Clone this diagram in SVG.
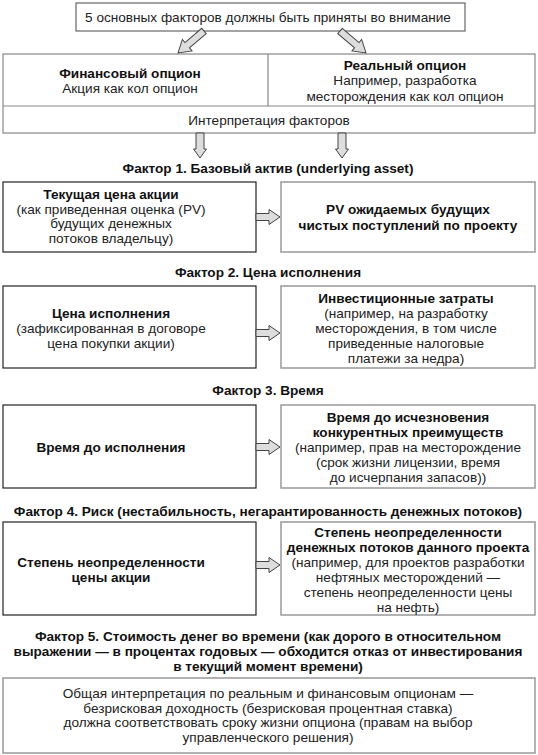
<svg xmlns="http://www.w3.org/2000/svg" width="538" height="755" viewBox="0 0 538 755">
<style>
text{font-family:"Liberation Sans",Arial,sans-serif;font-size:13.6px;fill:#222;text-anchor:middle}
.b{font-weight:bold;fill:#111}
.dark{fill:#fff;stroke:#222;stroke-width:1.2}
.gray{fill:#fff;stroke:#999;stroke-width:1.5}
.mid{fill:#fff;stroke:#888;stroke-width:1.2}
.arr{fill:#ddd;stroke:#444;stroke-width:1}
</style>
<defs>
<path id="ar" d="M0,-3.5 H13 V-7.5 L24,0 L13,7.5 V3.5 H0 Z"/>
<path id="ad" d="M0,-4 H16 V-6.5 L25,0 L16,6.5 V4 H0 Z"/>
<path id="ag" d="M0,-3.5 H22 V-7.5 L34,0 L22,7.5 V3.5 H0 Z"/>
</defs>

<g id="top">
<rect class="mid" x="76" y="3" width="389" height="28" style="stroke:#666"/>
<text x="268" y="22">5 основных факторов должны быть приняты во внимание</text>
</g>

<g id="options">
<rect class="mid" x="3" y="54" width="532" height="79"/>
<line x1="3" y1="106" x2="535" y2="106" stroke="#888" stroke-width="1.2"/>
<line x1="268" y1="54" x2="268" y2="106" stroke="#888" stroke-width="1.2"/>
</g>
<g id="financial">
<text class="b" x="130" y="78">Финансовый опцион</text>
<text x="130" y="93">Акция как кол опцион</text>
</g>
<g id="real">
<text class="b" x="405" y="70">Реальный опцион</text>
<text x="405" y="85">Например, разработка</text>
<text x="405" y="101">месторождения как кол опцион</text>
</g>
<g id="interp">
<text x="269" y="125">Интерпретация факторов</text>
</g>

<g id="titles">
<text class="b" x="268" y="173">Фактор 1. Базовый актив (underlying asset)</text>
<text class="b" x="268" y="277">Фактор 2. Цена исполнения</text>
<text class="b" x="268" y="395">Фактор 3. Время</text>
<text class="b" x="268" y="516">Фактор 4. Риск (нестабильность, негарантированность денежных потоков)</text>
<text class="b" x="268" y="641">Фактор 5. Стоимость денег во времени (как дорого в относительном</text>
<text class="b" x="268" y="656">выражении — в процентах годовых — обходится отказ от инвестирования</text>
<text class="b" x="268" y="671">в текущий момент времени)</text>
</g>

<g id="f1-left">
<rect class="dark" x="3" y="182" width="253" height="70"/>
<text class="b" x="111" y="199">Текущая цена акции</text>
<text x="111" y="214">(как приведенная оценка (PV)</text>
<text x="111" y="228">будущих денежных</text>
<text x="111" y="243">потоков владельцу)</text>
</g>
<g id="f1-right">
<rect class="gray" x="281" y="182" width="254" height="70"/>
<text class="b" x="408" y="214">PV ожидаемых будущих</text>
<text class="b" x="408" y="230">чистых поступлений по проекту</text>
</g>

<g id="f2-left">
<rect class="dark" x="3" y="286" width="253" height="82"/>
<text class="b" x="111" y="318">Цена исполнения</text>
<text x="111" y="333">(зафиксированная в договоре</text>
<text x="111" y="348">цена покупки акции)</text>
</g>
<g id="f2-right">
<rect class="gray" x="281" y="286" width="254" height="82"/>
<text class="b" x="406" y="303">Инвестиционные затраты</text>
<text x="406" y="318">(например, на разработку</text>
<text x="406" y="333">месторождения, в том числе</text>
<text x="406" y="348">приведенные налоговые</text>
<text x="406" y="363">платежи за недра)</text>
</g>

<g id="f3-left">
<rect class="dark" x="3" y="405" width="253" height="83"/>
<text class="b" x="111" y="452">Время до исполнения</text>
</g>
<g id="f3-right">
<rect class="gray" x="281" y="405" width="254" height="83"/>
<text class="b" x="408" y="422">Время до исчезновения</text>
<text class="b" x="408" y="437">конкурентных преимуществ</text>
<text x="408" y="452">(например, прав на месторождение</text>
<text x="408" y="467">(срок жизни лицензии, время</text>
<text x="408" y="482">до исчерпания запасов))</text>
</g>

<g id="f4-left">
<rect class="dark" x="3" y="522" width="253" height="93"/>
<text class="b" x="111" y="567">Степень неопределенности</text>
<text class="b" x="111" y="582">цены акции</text>
</g>
<g id="f4-right">
<rect class="gray" x="281" y="522" width="254" height="93"/>
<text class="b" x="408" y="537">Степень неопределенности</text>
<text class="b" x="408" y="552">денежных потоков данного проекта</text>
<text x="408" y="567">(например, для проектов разработки</text>
<text x="408" y="582">нефтяных месторождений —</text>
<text x="408" y="597">степень неопределенности цены</text>
<text x="408" y="612">на нефть)</text>
</g>

<g id="f5">
<rect class="gray" x="3" y="678" width="532" height="75"/>
<text x="268" y="698">Общая интерпретация по реальным и финансовым опционам —</text>
<text x="268" y="713">безрисковая доходность (безрисковая процентная ставка)</text>
<text x="268" y="727">должна соответствовать сроку жизни опциона (правам на выбор</text>
<text x="268" y="742">управленческого решения)</text>
</g>

<g id="connectors">
<use href="#ag" class="arr" transform="translate(204,31) rotate(139.8)"/>
<use href="#ag" class="arr" transform="translate(340,31) rotate(40.2)"/>
<use href="#ad" class="arr" transform="translate(200,133) rotate(90)"/>
<use href="#ad" class="arr" transform="translate(342,133) rotate(90)"/>
<use href="#ar" class="arr" transform="translate(256,217)"/>
<use href="#ar" class="arr" transform="translate(256,333)"/>
<use href="#ar" class="arr" transform="translate(256,447)"/>
<use href="#ar" class="arr" transform="translate(256,565)"/>
</g>
</svg>
